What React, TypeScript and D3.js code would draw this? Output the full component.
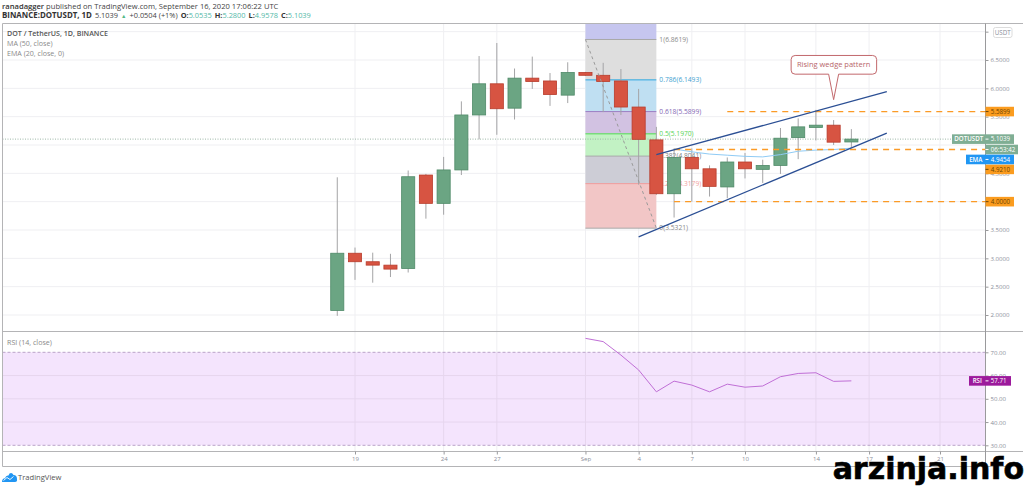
import React, { useEffect, useRef } from "react";
import * as d3 from "d3";

const days = [
  "2020-08-18", "2020-08-19", "2020-08-20", "2020-08-21", "2020-08-22", "2020-08-23", "2020-08-24",
  "2020-08-25", "2020-08-26", "2020-08-27", "2020-08-28", "2020-08-29", "2020-08-30", "2020-08-31",
  "2020-09-01", "2020-09-02", "2020-09-03", "2020-09-04", "2020-09-05", "2020-09-06", "2020-09-07",
  "2020-09-08", "2020-09-09", "2020-09-10", "2020-09-11", "2020-09-12", "2020-09-13", "2020-09-14",
  "2020-09-15", "2020-09-16",
];
const opens = [2.08, 3.09, 2.94, 2.88, 2.82, 4.47, 3.97, 4.56, 5.53, 6.08, 5.65, 6.18, 6.13, 5.88, 6.28, 6.23, 6.13, 5.67, 5.09, 4.14, 4.78, 4.58, 4.26, 4.7, 4.57, 4.64, 5.13, 5.31, 5.35, 5.0535];
const highs = [4.43, 3.19, 3.1, 3.08, 4.55, 4.49, 4.79, 5.77, 6.57, 6.8, 6.35, 6.56, 6.27, 6.46, 6.29, 6.45, 6.34, 5.99, 5.32, 4.94, 4.94, 4.64, 4.78, 4.86, 4.74, 5.3, 5.47, 5.62, 5.44, 5.28];
const lows = [1.985, 2.62, 2.57, 2.67, 2.75, 3.7, 3.77, 4.47, 5.1, 5.18, 5.45, 5.99, 5.69, 5.74, 6.22, 5.58, 5.53, 4.3, 4.12, 3.72, 4.0, 4.09, 4.06, 4.41, 4.33, 4.49, 4.75, 5.08, 5.0, 4.9578];
const closes = [3.09, 2.94, 2.88, 2.81, 4.44, 3.97, 4.56, 5.53, 6.08, 5.64, 6.18, 6.12, 5.89, 6.28, 6.23, 6.12, 5.67, 5.1, 4.14, 4.78, 4.58, 4.27, 4.7, 4.58, 4.64, 5.12, 5.32, 5.35, 5.05, 5.1039];

const emaDays = ["2020-09-06", "2020-09-07", "2020-09-08", "2020-09-09", "2020-09-10", "2020-09-11", "2020-09-12", "2020-09-13", "2020-09-14", "2020-09-15", "2020-09-16"];
const emaValues = [4.93, 4.88, 4.84, 4.82, 4.8, 4.79, 4.83, 4.89, 4.91, 4.92, 4.9454];

const rsiDays = ["2020-09-01", "2020-09-02", "2020-09-03", "2020-09-04", "2020-09-05", "2020-09-06", "2020-09-07", "2020-09-08", "2020-09-09", "2020-09-10", "2020-09-11", "2020-09-12", "2020-09-13", "2020-09-14", "2020-09-15", "2020-09-16"];
const rsiValues = [76, 74.6, 68.8, 62.4, 53, 57.6, 55.9, 53, 56.3, 55, 55.5, 59.5, 60.9, 61.2, 57.5, 57.71];

const priceTicks = [2, 2.5, 3, 3.5, 4, 4.5, 5, 5.5, 6, 6.5, 7];
const hiddenPriceLabels = [4, 5, 7]; // sit behind the tags on the axis
const rsiTicks = [30, 40, 50, 60, 70];
const dateTicks = ["2020-08-19", "2020-08-24", "2020-08-27", "2020-09-01", "2020-09-04", "2020-09-07", "2020-09-10", "2020-09-14", "2020-09-17", "2020-09-21"];
const dateLabels = ["19", "24", "27", "Sep", "4", "7", "10", "14", "17", "21"];

const fibLevels = [1.618, 1, 0.786, 0.618, 0.5, 0.382, 0.236, 0];
const fibPrices = [7.3, 6.8619, 6.1493, 5.5899, 5.197, 4.8041, 4.3179, 3.5321];
const fibFills = ["#c6c6ef", "#dedede", "#bfdff2", "#d2c2e2", "#c2f2c4", "#cdcdd6", "#f2c6c6"];
const fibLines = ["#c6c6ef", "#a8a8a8", "#2aa7df", "#9b7fc4", "#4fdc4f", "#a8a8a8", "#ee9a9a", "#a8a8a8"];
const fibTextColors = ["#888", "#8a8a8a", "#3f9fd0", "#8468b4", "#55d455", "#808080", "#f0a0a0", "#8a8a8a"];

const wedgeUpper = [["2020-09-05", 4.83], ["2020-09-18", 5.94]] as const;
const wedgeLower = [["2020-09-04", 3.38], ["2020-09-18", 5.21]] as const;
const fibTrend = [["2020-09-01", 6.8619], ["2020-09-05", 3.5321]] as const;

const orangeLevels = [
  { start: "2020-09-09", price: 5.5899, label: "5.5899", labelPrice: 5.5899 },
  { start: "2020-09-06", price: 4.921, label: "4.9210", labelPrice: 4.57 },
  { start: "2020-09-06", price: 4.0, label: "4.0000", labelPrice: 4.0 },
];

const UP = "#6ba583";
const DOWN = "#d75442";
const GRID = "#efeff2";
const AXIS_TEXT = "#8a8e99";
const FONT = "'Open Sans', sans-serif";

const parse = (s: string) => new Date(s + "T00:00:00Z");

const App: React.FC = () => {
  const chartRef = useRef<SVGSVGElement | null>(null);

  useEffect(() => {
    const root = d3.select(chartRef.current);
    root.selectAll("*").remove();

    const frame = { left: 2.5, right: 985.5, outer: 1023, top: 23.5, paneEnd: 331.5, rsiEnd: 451.5, bottom: 466.5 };

    const x = d3.scaleUtc().domain([parse("2020-08-19"), parse("2020-09-21")]).range([355, 940]);
    const y = d3.scaleLinear().domain([2, 6.5]).range([315, 60]);
    const yRsi = d3.scaleLinear().domain([30, 70]).range([445.3, 352.3]);
    const dayWidth = x(parse("2020-08-20")) - x(parse("2020-08-19"));
    const bodyWidth = dayWidth * 0.74;

    root.append("rect").attr("width", 1024).attr("height", 486).attr("fill", "#fff");

    const defs = root.append("defs");
    defs.append("clipPath").attr("id", "price-clip").append("rect")
      .attr("x", frame.left).attr("y", frame.top)
      .attr("width", frame.right - frame.left).attr("height", frame.paneEnd - frame.top);

    // header
    const header = root.append("g").style("font-family", FONT);
    const line1 = header.append("text").attr("x", 2).attr("y", 8.5).attr("fill", "#444").style("font-size", "7.6px");
    line1.append("tspan").attr("font-weight", 600).attr("fill", "#333").text("ranadagger");
    line1.append("tspan").text(" published on TradingView.com, September 16, 2020 17:06:22 UTC");
    const line2 = header.append("text").attr("x", 2).attr("y", 18).attr("fill", "#444").style("font-size", "7.4px");
    line2.append("tspan").attr("font-weight", 700).attr("fill", "#333").style("font-size", "7.9px").text("BINANCE:DOTUSDT, 1D");
    line2.append("tspan").attr("dx", 3).text("5.1039");
    line2.append("tspan").attr("dx", 3).attr("fill", "#53b987").style("font-size", "5.5px").text("▲");
    line2.append("tspan").attr("dx", 3).text("+0.0504 (+1%)");
    [["O:", "5.0535"], ["H:", "5.2800"], ["L:", "4.9578"], ["C:", "5.1039"]].forEach(([k, v]) => {
      line2.append("tspan").attr("dx", 3).attr("font-weight", 700).attr("fill", "#333").text(k);
      line2.append("tspan").attr("fill", "#53b9a8").text(v);
    });

    // grids
    const grid = root.append("g").attr("stroke", GRID).attr("stroke-width", 1);
    priceTicks.forEach((t) => {
      grid.append("line").attr("x1", frame.left).attr("x2", frame.right).attr("y1", y(t)).attr("y2", y(t));
    });
    dateTicks.forEach((d) => {
      grid.append("line").attr("x1", x(parse(d))).attr("x2", x(parse(d))).attr("y1", frame.top).attr("y2", frame.rsiEnd);
    });

    // rsi band
    root.append("rect")
      .attr("x", frame.left).attr("width", frame.right - frame.left)
      .attr("y", yRsi(70)).attr("height", yRsi(30) - yRsi(70))
      .attr("fill", "#f4e4fd");
    [40, 50, 60].forEach((t) => {
      root.append("line").attr("x1", frame.left).attr("x2", frame.right)
        .attr("y1", yRsi(t)).attr("y2", yRsi(t)).attr("stroke", "#e6d6ee");
    });
    dateTicks.forEach((d) => {
      root.append("line").attr("x1", x(parse(d))).attr("x2", x(parse(d)))
        .attr("y1", yRsi(70)).attr("y2", yRsi(30)).attr("stroke", "#e6d6ee");
    });
    [30, 70].forEach((t) => {
      root.append("line").attr("x1", frame.left).attr("x2", frame.right)
        .attr("y1", yRsi(t)).attr("y2", yRsi(t))
        .attr("stroke", "#b9a3c8").attr("stroke-dasharray", "3,2");
    });

    // fib retracement
    const fib = root.append("g").attr("clip-path", "url(#price-clip)");
    const fibLeft = x(parse(fibTrend[0][0]));
    const fibRight = x(parse(fibTrend[1][0]));
    fibFills.forEach((c, i) => {
      fib.append("rect")
        .attr("x", fibLeft).attr("width", fibRight - fibLeft)
        .attr("y", y(fibPrices[i])).attr("height", y(fibPrices[i + 1]) - y(fibPrices[i]))
        .attr("fill", c);
    });
    fibPrices.forEach((p, i) => {
      fib.append("line").attr("x1", fibLeft).attr("x2", fibRight)
        .attr("y1", y(p)).attr("y2", y(p)).attr("stroke", fibLines[i]);
    });

    // last price line
    root.append("line").attr("x1", frame.left).attr("x2", frame.right)
      .attr("y1", y(5.1039)).attr("y2", y(5.1039))
      .attr("stroke", "#9db8a8").attr("stroke-dasharray", "1,1.5");

    // fib labels stay under the candles
    const fibText = root.append("g").style("font-family", FONT).style("font-size", "6.7px");
    fibLevels.forEach((lvl, i) => {
      if (i === 0) return;
      fibText.append("text")
        .attr("x", fibRight + 3).attr("y", y(fibPrices[i]) + 2.3)
        .attr("fill", fibTextColors[i])
        .text(`${lvl}(${fibPrices[i].toFixed(4)})`);
    });

    // candles
    const candles = days.map((d, i) => ({ x: x(parse(d)), o: opens[i], h: highs[i], l: lows[i], c: closes[i] }));
    const cg = root.append("g");
    cg.selectAll("line").data(candles).enter().append("line")
      .attr("x1", (d) => d.x).attr("x2", (d) => d.x)
      .attr("y1", (d) => y(d.h)).attr("y2", (d) => y(d.l))
      .attr("stroke", "#a4a4a6").attr("stroke-width", 1);
    cg.selectAll("rect").data(candles).enter().append("rect")
      .attr("x", (d) => d.x - bodyWidth / 2).attr("width", bodyWidth)
      .attr("y", (d) => y(Math.max(d.o, d.c)))
      .attr("height", (d) => Math.abs(y(d.o) - y(d.c)))
      .attr("fill", (d) => (d.c >= d.o ? UP : DOWN))
      .attr("stroke", (d) => (d.c >= d.o ? "#4f8a68" : "#b83c2c"))
      .attr("stroke-width", 0.8);

    // diagonal fib trend line
    root.append("line")
      .attr("x1", fibLeft).attr("y1", y(fibTrend[0][1]))
      .attr("x2", fibRight).attr("y2", y(fibTrend[1][1]))
      .attr("stroke", "#9a9a9a").attr("stroke-width", 1).attr("stroke-dasharray", "3,3");

    // ema
    const priceLine = d3.line<[string, number]>().x((d) => x(parse(d[0]))).y((d) => y(d[1]));
    root.append("path")
      .attr("d", priceLine(emaDays.map((d, i) => [d, emaValues[i]] as [string, number])))
      .attr("fill", "none").attr("stroke", "#8fcbf5").attr("stroke-width", 1);

    // orange levels
    orangeLevels.forEach((l) => {
      root.append("line")
        .attr("x1", x(parse(l.start))).attr("x2", frame.right)
        .attr("y1", y(l.price)).attr("y2", y(l.price))
        .attr("stroke", "#fb9a26").attr("stroke-width", 1.3).attr("stroke-dasharray", "6,5");
    });

    // wedge
    [wedgeUpper, wedgeLower].forEach((w) => {
      root.append("line")
        .attr("x1", x(parse(w[0][0]))).attr("y1", y(w[0][1]))
        .attr("x2", x(parse(w[1][0]))).attr("y2", y(w[1][1]))
        .attr("stroke", "#2b4f94").attr("stroke-width", 1.3);
    });

    // callout
    const callout = root.append("g");
    const cx = x(parse("2020-09-15"));
    const boxL = cx - 42.5, boxR = cx + 43, boxT = y(6.58), boxB = y(6.25), r = 4;
    const tipY = y(5.8);
    callout.append("path")
      .attr("d", `M${boxL + r},${boxT} H${boxR - r} Q${boxR},${boxT} ${boxR},${boxT + r} V${boxB - r} Q${boxR},${boxB} ${boxR - r},${boxB} H${cx + 5} L${cx},${tipY} L${cx - 5},${boxB} H${boxL + r} Q${boxL},${boxB} ${boxL},${boxB - r} V${boxT + r} Q${boxL},${boxT} ${boxL + r},${boxT} Z`)
      .attr("fill", "#fff").attr("stroke", "#c2686c").attr("stroke-width", 1);
    callout.append("text")
      .attr("x", cx).attr("y", (boxT + boxB) / 2 + 2.6)
      .attr("text-anchor", "middle")
      .style("font-family", FONT).style("font-size", "7.5px")
      .attr("fill", "#b8666a")
      .text("Rising wedge pattern");

    // rsi line
    const rsiLine = d3.line<[string, number]>().x((d) => x(parse(d[0]))).y((d) => yRsi(d[1]));
    root.append("path")
      .attr("d", rsiLine(rsiDays.map((d, i) => [d, rsiValues[i]] as [string, number])))
      .attr("fill", "none").attr("stroke", "#c06fd6").attr("stroke-width", 1);

    // frames
    const frames = root.append("g").attr("fill", "none").attr("stroke", "#b4b4b6").attr("stroke-width", 1);
    frames.append("line").attr("x1", frame.left).attr("x2", frame.outer).attr("y1", frame.top).attr("y2", frame.top);
    frames.append("line").attr("x1", frame.left).attr("x2", frame.outer).attr("y1", frame.bottom).attr("y2", frame.bottom);
    frames.append("line").attr("x1", frame.left).attr("x2", frame.left).attr("y1", frame.top).attr("y2", frame.bottom);
    frames.append("line").attr("x1", frame.left).attr("x2", frame.outer).attr("y1", frame.paneEnd).attr("y2", frame.paneEnd);
    frames.append("line").attr("x1", frame.left).attr("x2", frame.outer).attr("y1", frame.rsiEnd).attr("y2", frame.rsiEnd);
    frames.append("line").attr("x1", frame.right).attr("x2", frame.right).attr("y1", frame.top).attr("y2", frame.bottom)
      .attr("stroke", "#9a9a9c");

    // axes
    const styleAxis = (g: d3.Selection<SVGGElement, unknown, null, undefined>) => {
      g.select(".domain").remove();
      g.selectAll(".tick line").attr("stroke", "#9a9a9c");
      g.selectAll("text").attr("fill", AXIS_TEXT).style("font-family", FONT).style("font-size", "6.1px");
    };
    root.append("g").attr("transform", `translate(${frame.right},0)`)
      .call(d3.axisRight(y).tickValues(priceTicks)
        .tickFormat((v) => (hiddenPriceLabels.includes(v as number) ? "" : (v as number).toFixed(4)))
        .tickSize(3).tickPadding(2))
      .call(styleAxis as any);
    root.append("g").attr("transform", `translate(${frame.right},0)`)
      .call(d3.axisRight(yRsi).tickValues(rsiTicks).tickFormat((v) => (v as number).toFixed(2)).tickSize(3).tickPadding(2))
      .call(styleAxis as any);
    root.append("g").attr("transform", `translate(0,${frame.rsiEnd})`)
      .call(d3.axisBottom(x).tickValues(dateTicks.map(parse)).tickFormat((_d, i) => dateLabels[i]).tickSize(3).tickPadding(2))
      .call(styleAxis as any);

    // currency tag
    root.append("rect").attr("x", 993.5).attr("y", 27.5).attr("width", 18.5).attr("height", 10).attr("rx", 2)
      .attr("fill", "#fff").attr("stroke", "#dcdcdc");
    root.append("text").attr("x", 1002.7).attr("y", 34.7).attr("text-anchor", "middle")
      .style("font-family", FONT).style("font-size", "6.2px").attr("fill", AXIS_TEXT).text("USDT");

    // price labels
    const tag = (left: number, right: number, midY: number, color: string, name: string | null, value: string, textColor = "#fff") => {
      root.append("rect").attr("x", left).attr("y", midY - 4.8).attr("width", right - left).attr("height", 9.6).attr("fill", color);
      if (name) root.append("text").attr("x", (left + frame.right) / 2).attr("y", midY + 2.2).attr("text-anchor", "middle")
        .attr("fill", "#fff").style("font-family", FONT).style("font-size", "6.2px").attr("font-weight", 600).text(name);
      root.append("text").attr("x", frame.right + 5.3).attr("y", midY + 2.2).attr("fill", textColor)
        .style("font-family", FONT).style("font-size", "6.2px").text(value);
      root.append("line").attr("x1", frame.right).attr("x2", frame.right + 3).attr("y1", midY).attr("y2", midY).attr("stroke", textColor);
    };
    orangeLevels.forEach((l) => tag(frame.right, 1014, y(l.labelPrice), "#fb9c1f", null, l.label, "#6b4300"));
    tag(952, 1014, y(5.1039), "#7fae94", "DOTUSDT", "5.1039");
    tag(frame.right, 1018, y(4.921), "#7fae94", null, "06:53:42");
    tag(966, 1014, y(4.745), "#2196f3", "EMA", "4.9454");
    tag(969, 1011, yRsi(57.71), "#9c1a9c", "RSI", "57.71");

    // legends
    const legend = root.append("g").style("font-family", FONT).style("font-size", "7.1px");
    legend.append("text").attr("x", 7).attr("y", 36).attr("font-weight", 600).attr("fill", "#555").text("DOT / TetherUS, 1D, BINANCE");
    legend.append("text").attr("x", 7).attr("y", 46).attr("fill", "#8a8a8a").text("MA (50, close)");
    legend.append("text").attr("x", 7).attr("y", 56).attr("fill", "#8a8a8a").text("EMA (20, close, 0)");
    legend.append("text").attr("x", 7).attr("y", 344.5).attr("fill", "#8a8a8a").text("RSI (14, close)");

    // logo
    const logo = root.append("g").attr("transform", "translate(2,472)");
    logo.append("path")
      .attr("d", "M0,10 Q0,6.5 3,6.2 Q4,3 6.5,3.5 L7.5,1.5 Q10,0 11.5,3 Q15,3 15,7 Q15.5,10 13,10 Z")
      .attr("fill", "#2196f3");
    logo.append("path").attr("d", "M1.5,8.5 L5,5.5 L8,7.5 L11.5,4.5").attr("fill", "none").attr("stroke", "#fff").attr("stroke-width", 0.9);
    root.append("text").attr("x", 18).attr("y", 480)
      .style("font-family", FONT).style("font-size", "7.6px").attr("fill", "#555").text("TradingView");

    // watermark
    root.append("text").attr("x", 1024).attr("y", 479).attr("text-anchor", "end")
      .style("font-family", "'DejaVu Sans', sans-serif").style("font-size", "30px").attr("font-weight", 700)
      .attr("stroke", "#000").attr("stroke-width", 0.6).attr("fill", "#000").text("arzinja.info");
  }, []);

  return (
    <svg
      ref={chartRef}
      width={1024}
      height={486}
      style={{ position: "absolute", left: 0, top: 0, display: "block" }}
    />
  );
};

export default App;
